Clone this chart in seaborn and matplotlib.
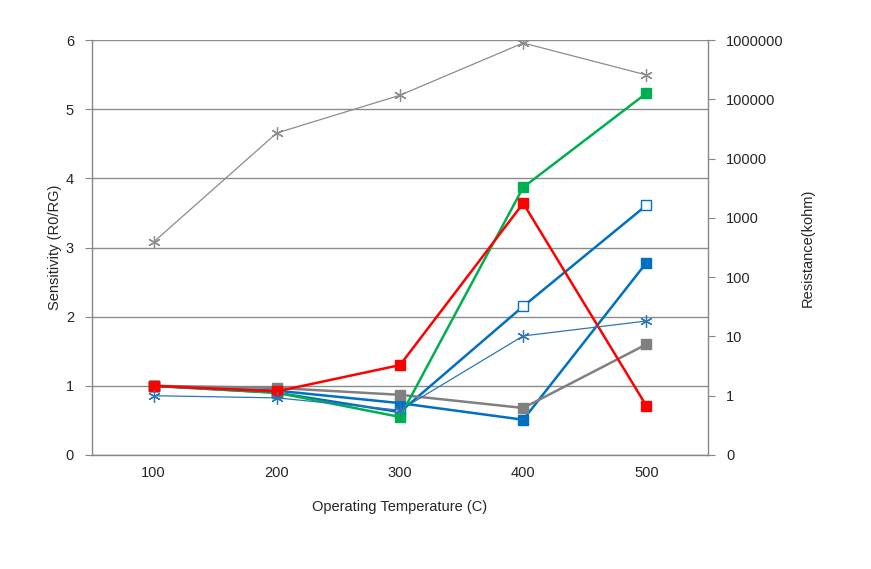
import numpy as np
import pandas as pd
import seaborn as sns
import matplotlib.pyplot as plt
from matplotlib.ticker import FixedLocator, FuncFormatter, NullLocator

# 数据
temps = [100, 200, 300, 400, 500]

# 灵敏度（左轴）
sens_red = [1.00, 0.92, 1.30, 3.64, 0.71]
sens_green = [1.00, 0.90, 0.55, 3.87, 5.23]
sens_gray = [1.00, 0.97, 0.87, 0.68, 1.60]
sens_blue = [1.00, 0.93, 0.75, 0.51, 2.78]
sens_blue_open = [1.00, 0.90, 0.62, 2.15, 3.61]

# 电阻（右轴，对数）
res_gray = [391, 27000, 117000, 890000, 257000]
res_blue = [1.0, 0.92, 0.57, 10.2, 18.2]

left_ticks = [0, 1, 2, 3, 4, 5, 6]
right_ticks = [0.1, 1, 10, 100, 1000, 10000, 100000, 1000000]

sns.set_style("white")
plt.rcParams['font.family'] = ['Liberation Sans', 'DejaVu Sans']

fig = plt.figure(figsize=(8.71, 5.69), dpi=100)
ax = fig.add_axes([92 / 871, 1 - 455 / 569, (708 - 92) / 871, (455 - 40) / 569])
ax2 = ax.twinx()

axis_gray = '#868686'

# 右轴曲线
sns.lineplot(x=temps, y=res_gray, ax=ax2, color='#8c8c8c', linewidth=0.9,
             marker=(6, 2, 0), markersize=9, markeredgewidth=0.9,
             markeredgecolor='#8c8c8c')
sns.lineplot(x=temps, y=res_blue, ax=ax2, color='#2e75b6', linewidth=0.9,
             marker=(6, 2, 0), markersize=9, markeredgewidth=0.9,
             markeredgecolor='#2e75b6')

# 左轴曲线
sq = dict(marker='s', markersize=7, linewidth=1.8, markeredgewidth=1.0)
sns.lineplot(x=temps, y=sens_blue_open, ax=ax, color='#0070c0',
             markerfacecolor='white', markeredgecolor='#0070c0', **sq)
sns.lineplot(x=temps, y=sens_blue, ax=ax, color='#0070c0',
             markeredgecolor='#0070c0', **sq)
sns.lineplot(x=temps, y=sens_gray, ax=ax, color='#808080',
             markeredgecolor='#808080', **sq)
sns.lineplot(x=temps, y=sens_green, ax=ax, color='#00b050',
             markeredgecolor='#00b050', **sq)
sns.lineplot(x=temps, y=sens_red, ax=ax, color='#ff0000',
             markeredgecolor='#ff0000', **sq)

# 左轴设置
ax.set_xlim(50, 550)
ax.set_ylim(0, 6)
ax.set_yticks(left_ticks)
ax.set_xticks(temps)
ax.xaxis.set_minor_locator(FixedLocator([50, 150, 250, 350, 450, 550]))
ax.tick_params(axis='x', which='major', length=0, pad=8, labelsize=10.5)
ax.tick_params(axis='x', which='minor', length=5, color=axis_gray, direction='out')
ax.tick_params(axis='y', length=5, color=axis_gray, direction='out', pad=8,
               labelsize=10.5, left=True)
ax.grid(axis='y', color='#8c8c8c', linewidth=1.0)
ax.set_axisbelow(True)
ax.set_xlabel('Operating Temperature (C)', fontsize=10.5, labelpad=14)
ax.set_ylabel('Sensitivity (R0/RG)', fontsize=10.5, labelpad=3)

# 右轴设置
ax2.set_yscale('log')
ax2.set_ylim(0.1, 1000000)
ax2.yaxis.set_major_locator(FixedLocator(right_ticks))
ax2.yaxis.set_minor_locator(NullLocator())
ax2.yaxis.set_major_formatter(FuncFormatter(lambda v, p: '0' if v < 1 else f'{int(round(v))}'))
ax2.tick_params(axis='y', length=5, color=axis_gray, direction='out', pad=8,
                labelsize=10.5, right=True)
ax2.set_ylabel('Resistance(kohm)', fontsize=10.5, labelpad=12)

for a in (ax, ax2):
    a.spines['top'].set_visible(False)
    for s in ('left', 'right', 'bottom'):
        a.spines[s].set_color(axis_gray)
        a.spines[s].set_linewidth(1.0)
ax2.spines['left'].set_visible(False)
ax2.spines['bottom'].set_visible(False)
ax.spines['right'].set_visible(False)

plt.savefig('out.png', dpi=100)
